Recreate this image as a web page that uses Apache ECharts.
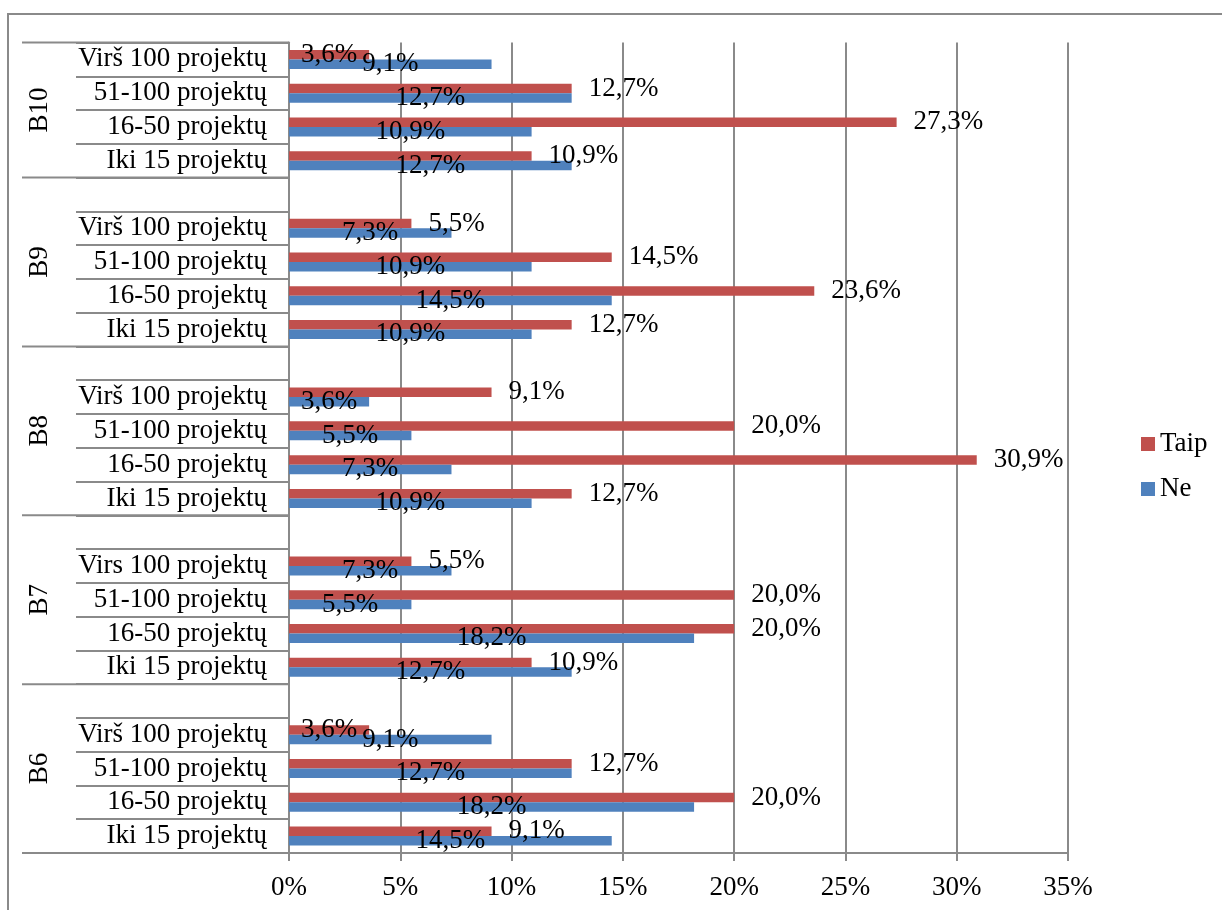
<!DOCTYPE html>
<html>
<head>
<meta charset="utf-8">
<script src="https://cdn.jsdelivr.net/npm/echarts@6/dist/echarts.min.js"></script>
<style>
  html, body { margin: 0; padding: 0; background: #fff; }
  #chart { width: 1222px; height: 910px; }
</style>
</head>
<body>
<div id="chart"></div>
<script>
// Rows listed top to bottom; an empty name is the spacer row above each block.
const categories = [
  'Virš 100 projektų', '51-100 projektų', '16-50 projektų', 'Iki 15 projektų',
  '', 'Virš 100 projektų', '51-100 projektų', '16-50 projektų', 'Iki 15 projektų',
  '', 'Virš 100 projektų', '51-100 projektų', '16-50 projektų', 'Iki 15 projektų',
  '', 'Virs 100 projektų', '51-100 projektų', '16-50 projektų', 'Iki 15 projektų',
  '', 'Virš 100 projektų', '51-100 projektų', '16-50 projektų', 'Iki 15 projektų'
];
const groupNames = ['B10', 'B9', 'B8', 'B7', 'B6'];
const groupSizes = [4, 5, 5, 5, 5];

const taip = [
  3.6, 12.7, 27.3, 10.9,
  null, 5.5, 14.5, 23.6, 12.7,
  null, 9.1, 20.0, 30.9, 12.7,
  null, 5.5, 20.0, 20.0, 10.9,
  null, 3.6, 12.7, 20.0, 9.1
];
const ne = [
  9.1, 12.7, 10.9, 12.7,
  null, 7.3, 10.9, 14.5, 10.9,
  null, 3.6, 5.5, 7.3, 10.9,
  null, 7.3, 5.5, 18.2, 12.7,
  null, 9.1, 12.7, 18.2, 14.5
];
const xTicks = { min: 0, max: 35, step: 5 };

const FONT = '"Liberation Serif", "Times New Roman", serif';
const FONT_SIZE = 27;
const LINE = '#8a8a8a';
const fmt = v => v.toFixed(1).replace('.', ',') + '%';

const textBase = { fontFamily: FONT, fontSize: FONT_SIZE, color: '#000' };

// very short "Taip" bars carry their label inside the bar
const taipData = taip.map(v => {
  if (v == null) return null;
  return v < 4 ? { value: v, label: { position: 'inside' } } : v;
});

const chart = echarts.init(document.getElementById('chart'), null, { renderer: 'canvas' });

chart.setOption({
  animation: false,
  backgroundColor: '#fff',
  grid: { left: 289, right: 154, top: 42.5, bottom: 57, outerBoundsMode: 'none' },
  legend: {
    orient: 'vertical',
    left: 1136,
    top: 424,
    itemWidth: 14,
    itemHeight: 14,
    itemGap: 15,
    icon: 'rect',
    data: ['Taip', 'Ne'],
    textStyle: Object.assign({ lineHeight: 30 }, textBase)
  },
  xAxis: {
    type: 'value',
    min: xTicks.min,
    max: xTicks.max,
    interval: xTicks.step,
    axisLine: { show: true, lineStyle: { color: LINE, width: 2 } },
    axisTick: { show: true, length: 8, lineStyle: { color: LINE, width: 2 } },
    axisLabel: Object.assign({ formatter: '{value}%', margin: 21 }, textBase),
    splitLine: { show: true, lineStyle: { color: LINE, width: 2 } }
  },
  yAxis: {
    type: 'category',
    inverse: true,
    data: categories,
    axisLine: { show: true, lineStyle: { color: LINE, width: 2 } },
    axisTick: { show: true, length: 213, interval: 0, lineStyle: { color: LINE, width: 2 } },
    axisLabel: Object.assign({ interval: 0, margin: 22 }, textBase)
  },
  series: [
    {
      name: 'Taip',
      type: 'bar',
      data: taipData,
      barWidth: 9.5,
      barGap: '0%',
      itemStyle: { color: '#C0504D' },
      label: Object.assign({ show: true, position: 'right', distance: 17,
        formatter: p => fmt(p.value) }, textBase)
    },
    {
      name: 'Ne',
      type: 'bar',
      data: ne,
      barWidth: 9.5,
      barGap: '0%',
      itemStyle: { color: '#4F81BD' },
      label: Object.assign({ show: true, position: 'inside',
        formatter: p => fmt(p.value) }, textBase)
    }
  ]
});

// Outer level of the category axis: block names and long separator lines.
function drawGroups() {
  const py = i => chart.convertToPixel({ yAxisIndex: 0 }, i);
  const band = Math.abs(py(1) - py(0));
  const axisX = chart.convertToPixel({ xAxisIndex: 0 }, 0);
  const elements = [{
    type: 'rect',
    silent: true,
    shape: { x: 8, y: 14, width: 1400, height: 1000 },
    style: { fill: 'none', stroke: LINE, lineWidth: 2 }
  }];
  let start = 0;
  groupNames.forEach((name, g) => {
    const end = start + groupSizes[g] - 1;
    const top = py(start) - band / 2;
    const bottom = py(end) + band / 2;
    if (g === 0) {
      elements.push({ type: 'line', silent: true,
        shape: { x1: 22, y1: top, x2: axisX, y2: top },
        style: { stroke: LINE, lineWidth: 2 } });
    }
    elements.push({ type: 'line', silent: true,
      shape: { x1: 22, y1: bottom, x2: axisX, y2: bottom },
      style: { stroke: LINE, lineWidth: 2 } });
    elements.push({ type: 'text', silent: true,
      x: 40, y: (top + bottom) / 2, rotation: Math.PI / 2,
      style: { text: name, font: FONT_SIZE + 'px ' + FONT, fill: '#000',
        align: 'center', verticalAlign: 'middle' } });
    start = end + 1;
  });
  chart.setOption({ graphic: { elements } });
}
drawGroups();
</script>
</body>
</html>
